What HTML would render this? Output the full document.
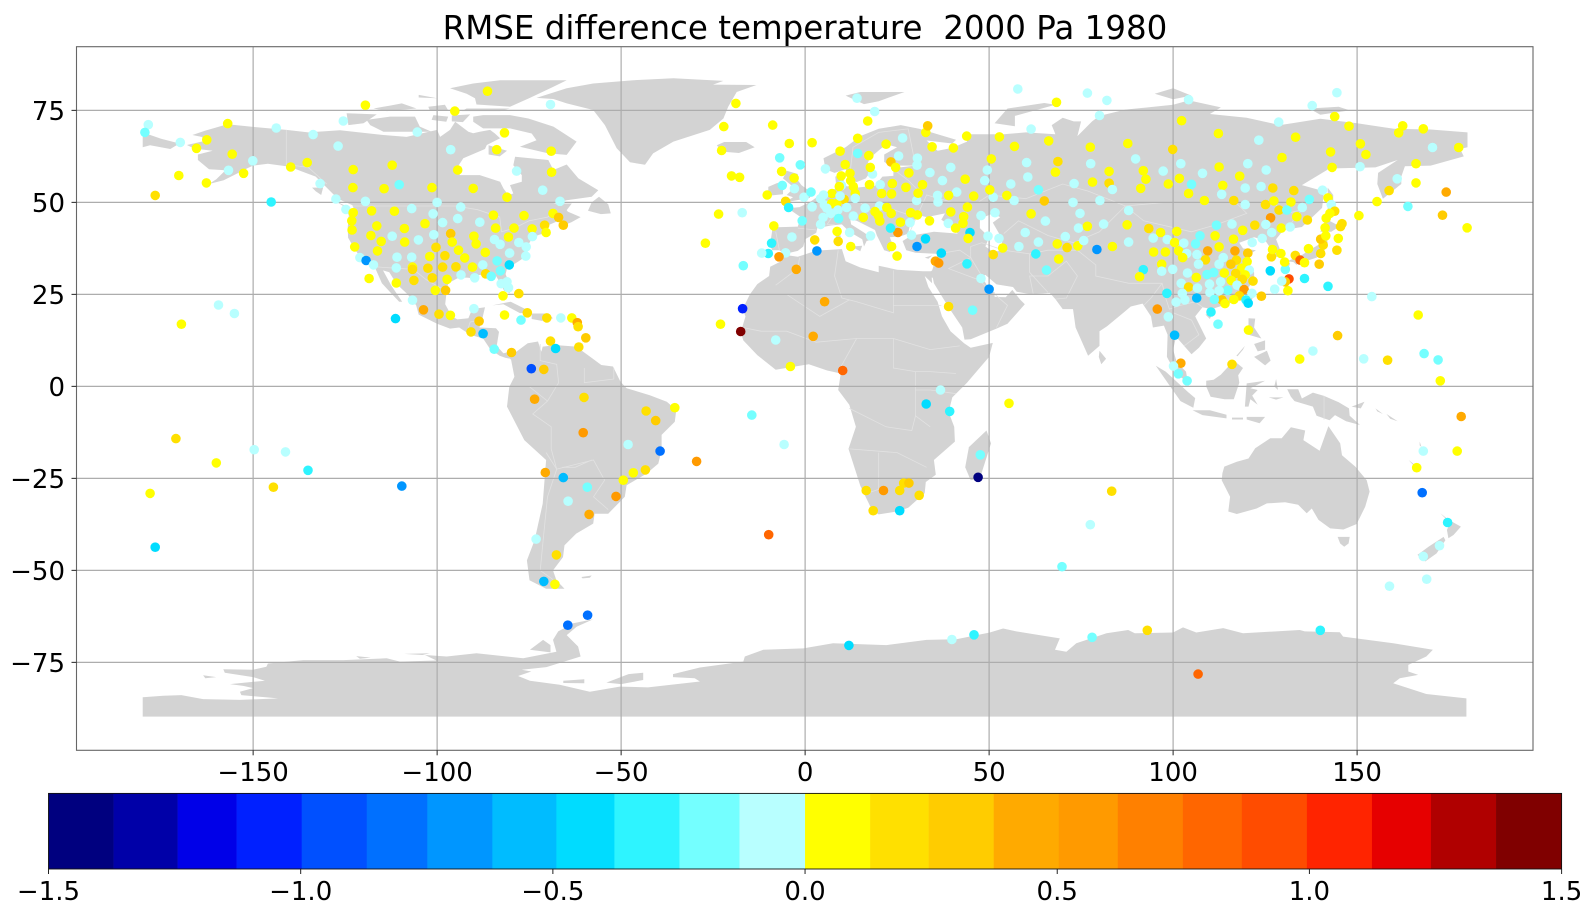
<!DOCTYPE html>
<html lang="en">
<head>
<meta charset="utf-8">
<title>RMSE difference temperature 2000 Pa 1980</title>
<style>
html,body{margin:0;padding:0;background:#fff;width:1595px;height:915px;overflow:hidden}
svg{display:block}
text{font-family:"DejaVu Sans","Liberation Sans",sans-serif;fill:#000}
</style>
</head>
<body>
<svg id="figure" xmlns="http://www.w3.org/2000/svg" width="1595" height="915" viewBox="0 0 1595 915">
  <text x="805" y="39" font-size="32.5" text-anchor="middle" xml:space="preserve">RMSE difference temperature  2000 Pa 1980</text>
  <g id="land"></g>
  <g id="borders"></g>
  <g id="grid"></g>
  <g id="stations"></g>
  <rect x="76.5" y="46.7" width="1456.5" height="703.6" fill="none" stroke="#666" stroke-width="1.1"/>
  <g id="xaxis"></g>
  <g id="yaxis"></g>
  <g id="colorbar"></g>
</svg>
<script>
const xTicks = [-150, -100, -50, 0, 50, 100, 150];
const yTicks = [75, 50, 25, 0, -25, -50, -75];
const colorbarTicks = [-1.5, -1.0, -0.5, 0.0, 0.5, 1.0, 1.5];
const colorbarTickLabels = ["\u22121.5", "\u22121.0", "\u22120.5", "0.0", "0.5", "1.0", "1.5"];
const bandEdges = [-1.5,-1.371,-1.244,-1.127,-0.998,-0.869,-0.749,-0.62,-0.493,-0.378,-0.249,-0.13,0,0.129,0.245,0.374,0.503,0.62,0.749,0.866,0.995,1.124,1.241,1.37,1.5];
const bandColors = ["#00007f","#0000a8","#0000e8","#0020ff","#0050ff","#0070ff","#0096ff","#00bcff","#00dcff","#2ef4ff","#74ffff","#b8ffff","#ffff00","#ffe000","#ffcc00","#ffaa00","#ff9a00","#ff8000","#ff6600","#ff4c00","#ff2400","#e60000","#b00000","#800000"];

const stationLon = [
-178.5,-179.4,-169.8,-162.6,-165.4,-156.9,-155.7,-156.7,-150.1,-152.6,
-162.7,-170.2,-176.6,-143.7,-133.7,-125.5,-119.5,-126.9,-139.8,-135.3,
-122.8,-112.2,-131.8,-122.9,-114.4,-110.3,-101.4,-105.4,-95.2,-86.3,
-69.2,-81.7,-83.8,-69,-96.3,-94.4,-78.4,-68.9,-90.2,-81,
-71.3,-66.6,-145.1,-127.5,-119.5,-124.8,-122.8,-123.2,-123.1,-117.8,
-111.6,-106.9,-100,-101.1,-93.6,-98.5,-94.4,-103.3,-108.9,-116.4,
-118,-115.2,-112.2,-108.8,-105.1,-100.9,-96.3,-95.9,-100.3,-94.2,
-90,-89.4,-84.7,-88.4,-84.1,-76.4,-79.1,-80.6,-84.4,-82.9,
-77.8,-75.8,-74.2,-74.1,-70.8,-70.4,-68.5,-67,-65.7,-122.4,
-116.2,-121,-119.3,-117.3,-110.9,-106.9,-102,-97.9,-92.5,-86.9,
-80.3,-75.9,-83.7,-80.4,-111.1,-106.7,-106.7,-102.5,-98.5,-94.9,
-90.4,-87.6,-82.8,-86.8,-85.3,-93.5,-89.8,-101.3,-97.3,-106.3,
-111.1,-118.5,-100.5,-97.7,-82.6,-81,-80.6,-82.1,-77.8,-106.7,
-103.7,-99.5,-96.4,-90,-81.7,-75.5,-77.2,-70.2,-66.4,-88.6,
-90.8,-87.5,-111.3,-159.4,-155.1,-169.5,-63.4,-61.9,-61.7,-59.6,
-61.5,-69.2,-67.8,-84.5,-79.8,-74.4,-71,-73.5,-60.1,-43.2,
-40.6,-35.4,-60.3,-48.1,-39.4,-29.5,-70.6,-65.7,-59.2,-43.4,
-46.7,-49.4,-51.4,-64.4,-58.7,-73.1,-67.6,-71,-68,-59.1,
-109.6,-23,-17,-17.5,-8,-4,-14.5,-5.7,-9.9,-64.5,
-176.6,-178,-171,-160,-149.7,-141.2,-135.1,-144.5,10.2,2.2,
5.3,32.9,36.8,39.3,47.6,47,16.6,21.3,25.7,26.8,
28.2,31,18.5,25.7,55.4,83.3,69.8,77.5,11.9,39.9,
45.9,78,93,140,106.8,-18.8,-22.1,-8.8,14.1,18.9,
17,-4.3,1.9,-22.7,-6.9,-1.3,-6.4,-20,-17.8,-3,
-6.2,-2.9,-10.3,-5.3,-4.5,-0.3,1.6,5.5,9.5,14.3,
14.3,10.9,9.8,12.2,12.4,13.1,13.6,9.9,9.3,7.3,
5,4.2,5.2,7.2,10.6,8.6,9.5,13.6,1.9,5.9,
8.9,11.3,7,4.9,4.2,9.1,13.1,16.3,20.2,-0.8,
-8.5,-17.1,-23.5,-27.1,-3.6,-9.1,-10,-11.8,-5.3,-7.1,
-16.8,-2.4,2.6,3.2,9,8.7,12.1,12.4,17.8,23.5,
25,25.2,23.2,28.9,25.9,28.5,20.3,19.9,19,15.8,
22.2,23.4,28.7,30.5,33.8,30.4,32.7,38.9,40.9,42.9,
43.1,39.6,44.1,47.8,51.6,44.8,44.3,49.7,52.7,37,
35.4,36.3,44,51.1,53.7,47.8,50,39,45.5,58.1,
62.7,65.6,68.9,68.5,71.2,74.1,63.4,59.8,65.3,61.4,
70.7,74.3,76.7,75.7,79.3,74.7,72.8,65,56.8,54.8,
51.1,50.2,45.8,48.8,49.5,50.6,43.5,39.6,33.9,37.3,
41.2,39,36,36.1,30.3,30.7,31.9,27.4,28.2,23.7,
20.4,17.5,20.8,23.5,18.3,17.7,17.3,22,26.5,25.4,
23.3,24.6,30.5,30.4,34.5,40.3,32.8,33.3,43.9,52.8,
56.9,61.4,66.2,77.5,57.8,68.3,76.7,68.7,60.2,77.6,
68,60.5,55.9,63.4,73.1,78.1,82,80,104.2,102.3,
87.7,99.9,112.3,123.3,128.7,133.3,137.8,144.5,143.9,147.8,
150.9,152.4,142.8,143.2,150.8,161.3,162.4,168,177.6,170.5,
166,160.9,166,158.7,155.4,163.8,174.2,173.2,179.9,150.5,
89.8,82.6,91.9,97.3,102.1,108,112.5,120.3,129.6,125.3,
118.1,92.6,101.7,82.6,83.5,91.2,98.7,105,113.5,119.6,
123.9,127.1,132.8,140.6,104.2,113.2,80.1,108.5,116.5,119.6,
125.1,127.4,132,137,142.1,143,87.9,128.8,130.9,135.1,
126.5,133.6,136.5,143.9,142.6,141.6,81.1,87.5,93.4,96.6,
94.6,101,98.4,87.9,83.5,100.4,102.9,94.7,97.9,101.5,
103.7,102.6,106.1,107.3,111.8,116,111.4,112.5,106.5,109.4,
108.8,106.9,96.9,96.9,99.9,91.9,90.9,103.9,106.3,109.2,
111,112.5,113.6,116.4,118.9,122.2,125.2,129.4,131.8,126.8,
124.2,121.5,116.8,120.3,117.2,115.7,120.1,118.6,120.7,113.9,
117,119.6,118.8,121.7,115.8,112.9,109.9,102.2,117.4,104.2,
106.6,114.8,119.3,110,112.5,102.5,98.3,121.4,118,124,
116.5,113.3,114.1,111.2,106.4,103.2,100.8,119.8,120.4,95.7,
110.3,98.7,112.2,120.5,100.4,102.1,100.1,116,134.4,138,
144.7,151.8,158.3,168.2,172,166.6,154,142.1,135.7,131.2,
127.6,131.5,130.5,129.5,130.5,126.4,130.3,126.7,127,129.3,
133.2,134.5,135.7,139.7,136.8,140.1,140.8,140.1,141.5,141.3,
144.5,144.9,145.5,145.9,172.6,178.3,168,177.2,166.2,167.7,
174.6,172.4,168,168.9,158.8,101.4,103.8
];
const stationLat = [
71.1,69,66.3,67,64.7,71.4,63.1,58.7,61.3,57.9,
55.3,57.3,51.9,70.2,68.4,72.1,76.4,65.3,59.6,60.8,
58.9,60.1,55.1,54,53.7,54.8,54,69.1,74.8,80.2,
76.6,68.9,64.3,63.9,64.3,58.8,58.5,58.2,53.8,51.4,
53.3,50.3,50.1,50.9,50.3,48.1,47.2,45,42.5,47.7,
47.6,48.3,50,46.9,48.7,44.5,45.6,44.2,42.9,43.6,
41,39.4,40.8,39.2,39.8,41.2,41.5,39.2,37.8,37,
40.8,38.7,46.5,44.6,43,46.4,43,40.6,39.9,38.6,
39.1,37.9,42.8,40.7,43.8,41.8,47,45.9,43.8,37.9,
36.8,35,34.2,33,35.1,35.1,35.3,35.5,34.9,36.4,
36.2,35.4,34.1,33,32.2,32.4,31.8,32.1,32.4,32.5,
32.4,33,31.4,30.6,29.9,30.3,29.5,29.5,29.1,28.8,
28.1,29.3,26.1,26.1,27.9,28.4,26.8,24.6,25.2,23.4,
20.8,19.6,19.3,21.1,19.4,20,18,18.6,18.6,17.7,
14.8,14.3,18.4,22.1,19.8,16.9,18.6,17.3,16.2,13.2,
10.7,12.3,10.3,10.1,9.2,4.8,4.6,-3.5,-3,-6.7,
-9.3,-5.8,-12.6,-15.8,-17.6,-20.4,-23.4,-24.8,-27.4,-22.7,
-23.5,-25.5,-29.9,-31.2,-34.8,-41.5,-45.8,-53,-53.8,-62.2,
-27.1,16.9,21.1,14.9,12.6,5.4,-7.8,-15.8,-40.3,-64.9,
-43.7,-29.1,-14.2,-20.8,-17.2,-17.8,-22.8,-27.4,4.3,13.6,
23,-4.8,-1,-6.8,-18.6,-24.7,-28.3,-28.3,-28.3,-26.3,
-26.3,-29.6,-33.8,-33.8,-4.6,-28.5,-49,-37.6,-70.4,-68.8,
-67.5,-68.2,-66.3,-66.3,-78.2,76.9,70.6,71,78.3,74.7,
72.1,66,66.2,64.1,62.1,60.2,58.4,57.2,56.8,56.6,
54.6,53.7,52,50.3,48.6,51.4,52.8,59.1,63.9,67.4,
63.3,60.3,57.2,57.9,55.9,54.3,52.4,54.6,54.3,52.4,
52,51,49.3,49.7,50.8,49.7,51.7,51.1,48.8,48.4,
47.9,48.6,47,45.9,44,45.6,46.3,48.4,49,45,
43.6,47.2,46.8,38.9,40.6,38.9,36.1,36.2,36.3,35.2,
32.8,31.8,39.8,36.8,39.4,42.1,41.8,38,40.9,38,
35.4,41.8,43,41.1,44.6,44.5,44.9,46.4,47.5,45.9,
48.6,47,47.2,46.6,45,38,40.1,44.3,43,44.3,
46.1,47.4,48.7,46.4,47.2,41.8,40.2,40.8,40.2,36.2,
34,33.5,33.3,35.8,37.6,29.3,26.4,21.7,20.7,38,
36,31.6,34.6,38.7,37.7,38.2,39.2,41.8,44.9,46.9,
40.7,43,43.5,39.6,37.2,47,50,50.4,50.5,51.9,
51.4,53.4,51.7,55.9,58.8,61.8,56.3,59.5,58.1,55.9,
52.8,51.9,51.9,50.1,50.5,52.5,54.8,54.1,58,55.1,
54.8,54.8,52.4,52.3,57.7,59.5,62.7,65.8,67.5,62.6,
61,59.5,62,60.1,65.1,64.8,69,70.8,68,67.8,
65.2,69.9,66.7,65,80.8,77.2,79.7,61.1,60.8,60.5,
58.2,56.9,55,53.4,55.1,55.5,77.7,73.6,77.9,72.2,
66,64.4,68.7,66.9,71.8,67.7,76.3,79.8,73.3,70.7,
65.9,63,63.7,59.5,59.7,68.9,70.8,70,64.9,64.9,
60.5,56.4,55.3,53.2,50.2,48.9,52.8,46.5,43.1,46.4,
61.8,58.4,58.6,58.5,60.5,57.9,59.6,60.5,62.2,58.8,
57.1,56.3,56.5,55.2,53.5,53.8,55,54.9,54.6,53.9,
54.3,53.9,53.2,53.3,52.4,52.2,50.5,50.5,50.5,49.4,
49.4,50.4,50.1,50.8,51.2,49.4,47.8,47.9,47.9,48.6,
45.8,46.1,45.2,47.6,47,45.7,44.1,43.9,42.9,41.8,
40.3,42.1,39.9,39.2,38,39.1,38.9,36.5,36.5,36.8,
36.1,35,38.7,40.9,43.8,44.1,40.9,37.9,35.8,36.8,
34.4,33.2,33.2,31.3,31.8,31.7,29.8,30.8,29.6,30.4,
30.9,33.2,35,40,42.4,43.8,44,43,43.3,41.8,
40.2,39.1,36.8,36.2,34.3,33.2,33.9,32.1,31.6,30.8,
30.7,30.3,29.1,28.6,28.8,28.4,27.8,28,27.5,27,
26.7,26.1,26.3,25.5,26,25.3,25.3,25.3,24.6,24.5,
23.6,23.5,22.5,23.6,24,23.5,22.9,23.5,22.6,21,
20.2,18.9,16.9,15.3,13.9,6.3,5.5,6,7.4,9.6,
13.8,7.5,7.1,8.9,7.2,19.4,24.4,27.2,29.3,26,
26.4,29.2,28.4,28.6,31.8,31.4,33.8,35.2,37.2,36.1,
35.6,34.3,33.6,33.2,37.4,36.1,38.4,40,40.9,43.1,
37,40.2,43.4,44.2,1.5,-8.2,-17.6,-17.6,-22.1,-28.9,
-37,-43.3,-46.2,-52.4,-54.3,3.4,1.5
];
const stationRmse = [
-0.07,-0.2,-0.07,0.07,0.07,0.07,0.07,-0.07,-0.07,0.07,
0.07,0.07,0.19,-0.07,-0.07,-0.07,0.07,-0.07,0.07,0.07,
0.07,0.07,-0.07,0.07,0.07,-0.2,0.07,-0.07,0.07,0.07,
-0.07,0.07,0.07,0.07,-0.07,0.07,-0.07,0.07,0.07,0.07,
-0.07,-0.07,-0.32,-0.07,-0.07,-0.07,0.07,0.07,0.07,0.07,
0.07,-0.07,-0.07,-0.07,-0.07,-0.07,-0.07,0.07,0.07,0.07,
0.07,0.07,-0.07,0.07,-0.07,-0.07,0.31,0.07,0.19,0.07,
0.07,0.07,0.07,-0.07,0.07,0.07,0.07,0.07,-0.07,-0.07,
-0.07,-0.07,0.07,-0.07,0.19,0.07,0.07,0.31,0.31,0.07,
0.07,-0.07,-0.69,-0.07,-0.07,-0.07,0.07,0.19,0.07,0.07,
-0.07,-0.07,-0.2,-0.44,-0.07,0.07,0.19,0.19,0.19,0.19,
0.07,-0.07,-0.2,0.19,-0.2,-0.07,-0.07,0.19,0.07,0.19,
0.07,0.07,0.07,0.31,-0.07,-0.07,-0.07,0.07,0.19,-0.07,
0.44,0.19,0.07,-0.07,0.07,0.19,-0.2,0.19,-0.07,0.31,
0.19,-0.56,-0.44,-0.07,-0.07,0.07,0.07,0.44,0.19,0.31,
0.19,0.19,-0.44,-0.2,0.31,-0.94,0.31,0.44,0.19,0.19,
0.31,0.07,0.56,-0.07,-0.8,0.56,0.44,-0.56,-0.2,0.19,
0.07,0.07,0.56,-0.07,0.44,-0.07,0.19,-0.56,0.07,-0.8,
-0.69,0.07,-1.06,1.45,-0.07,0.07,-0.2,-0.07,0.81,-0.8,
-0.44,0.07,0.19,0.07,-0.07,-0.07,-0.32,0.19,0.81,0.44,
0.44,-0.44,-0.07,-0.32,-0.2,-1.45,0.19,0.56,0.19,0.19,
0.31,0.19,0.19,-0.44,0.07,0.19,-0.2,-0.07,-0.44,-0.07,
-0.32,-0.2,0.19,-0.32,0.81,0.07,0.07,0.07,-0.07,-0.07,
0.07,0.07,0.07,0.07,-0.2,-0.2,0.07,0.07,0.07,0.07,
-0.2,-0.07,0.07,0.19,-0.32,-0.07,-0.2,-0.07,0.07,0.07,
-0.2,0.07,0.07,0.07,0.07,0.07,0.07,-0.07,0.07,0.07,
-0.07,-0.07,-0.07,0.07,0.19,0.07,-0.07,-0.07,-0.07,-0.07,
-0.07,-0.07,-0.07,-0.07,-0.07,-0.2,-0.07,-0.07,-0.07,-0.2,
0.07,-0.07,0.07,0.07,-0.07,-0.32,-0.32,-0.07,-0.07,0.56,
-0.2,0.44,0.19,-0.69,0.19,0.07,-0.07,0.07,-0.07,0.07,
0.07,0.56,-0.32,-0.07,0.07,-0.07,0.07,0.07,0.07,0.07,
0.07,0.07,0.07,0.07,0.07,-0.69,-0.44,-0.07,0.07,0.07,
0.07,0.07,0.07,-0.07,-0.07,-0.44,0.07,-0.07,-0.07,-0.44,
0.44,0.56,-0.32,0.19,0.07,-0.07,-0.69,0.19,-0.2,-0.07,
-0.32,-0.2,0.07,0.07,0.19,0.07,-0.07,-0.07,-0.07,0.07,
-0.07,-0.07,0.07,-0.07,-0.69,-0.07,-0.07,0.31,-0.07,0.07,
-0.07,0.07,0.07,-0.07,-0.07,0.07,0.07,-0.07,-0.07,-0.07,
-0.07,0.07,-0.07,-0.07,-0.07,0.07,0.07,0.07,0.07,0.07,
-0.07,0.07,0.07,0.07,-0.07,0.07,0.07,0.07,-0.07,-0.07,
0.31,0.07,-0.07,-0.07,0.07,0.07,0.07,0.31,0.07,0.07,
0.07,-0.07,0.07,0.07,-0.07,0.07,-0.07,0.19,-0.07,-0.07,
0.07,-0.07,-0.07,-0.2,-0.07,0.07,-0.07,-0.07,-0.07,0.07,
0.07,0.19,0.07,-0.07,-0.07,0.07,-0.07,-0.07,0.07,0.07,
0.07,0.07,0.07,0.07,-0.07,0.07,0.07,0.07,0.07,-0.07,
0.07,-0.07,0.07,0.19,0.07,-0.2,0.44,0.31,0.07,0.07,
-0.07,0.07,0.07,-0.07,-0.07,-0.07,0.07,-0.07,0.07,-0.07,
0.07,0.07,0.07,0.19,-0.07,0.07,0.07,-0.2,0.07,-0.07,
-0.07,0.19,0.19,-0.07,0.07,-0.07,-0.07,0.07,0.19,-0.07,
0.19,0.07,0.07,-0.2,0.07,-0.07,-0.07,0.19,-0.2,-0.07,
0.56,0.07,0.19,0.19,0.07,0.07,-0.07,0.07,0.19,0.07,
-0.07,0.07,-0.07,-0.07,0.07,0.07,-0.07,0.07,0.07,0.07,
-0.07,0.07,-0.2,-0.2,-0.2,-0.07,0.07,0.07,-0.07,0.44,
0.19,-0.07,0.07,-0.07,-0.07,-0.32,0.07,-0.07,0.07,-0.2,
-0.2,-0.07,-0.07,0.07,0.07,0.19,-0.07,0.07,-0.07,-0.07,
-0.07,-0.07,0.44,0.31,0.19,0.31,0.07,0.07,-0.07,0.07,
0.19,0.07,0.19,0.19,0.07,-0.07,-0.07,-0.07,-0.07,0.19,
-0.07,-0.2,0.56,-0.07,-0.07,-0.07,-0.32,-0.07,0.19,0.31,
0.07,0.31,0.07,-0.2,-0.56,-0.07,-0.07,-0.32,-0.44,0.56,
-0.32,-0.07,-0.2,0.07,-0.56,0.44,-0.07,0.19,0.07,-0.07,
0.31,-0.07,0.19,-0.2,-0.2,0.07,-0.07,-0.32,-0.32,0.07,
-0.07,0.94,0.31,-0.07,-0.2,-0.44,0.07,0.19,0.07,0.07,
0.19,0.81,0.07,0.31,0.07,0.19,0.19,0.31,0.07,0.07,
0.19,0.07,0.19,0.19,0.07,0.44,-0.07,0.07,0.07,-0.8,
-0.32,-0.07,-0.07,-0.07,-0.07,-0.2,-0.2
];

const landPolygons = [
"-168,65.6 -164,66.5 -162,66.2 -164,67.8 -166.5,68.3 -163,69.5 -157,71.2 -150,70.5 -141,69.7 -135,69 -126.4,69.6 -114.6,68.3 -108.3,67.8 -100,69.7 -99.2,67.8 -96.5,69.7 -95.1,71.9 -91.5,69.2 -90.2,68.8 -88.4,69.2 -85.6,69.7 -84.3,68.7 -82.9,67.4 -86.5,65.6 -87,64.5 -92.9,62 -94.7,59.2 -93.8,57.4 -88.4,57.4 -82.9,55.6 -82,53.8 -80.7,52 -79.3,52.4 -80.2,54.7 -77,55.6 -77,57.4 -79.3,60.1 -78.8,62.4 -69.8,61.5 -68.4,58.8 -64.8,60.3 -61.6,56.5 -56.2,53.3 -58,51.5 -64.8,50.6 -68.4,49.7 -63.4,49.7 -64.8,47.9 -64.5,47.5 -61,46 -63.5,44.6 -66,43.6 -67,45 -70,43.7 -70.7,41.7 -74,40.6 -75.5,38 -76,35.2 -78,33.9 -81,32 -81.4,30.5 -80,26.8 -80.3,25.3 -81.8,26 -82.8,28 -84,30 -86,30.4 -89.5,30.2 -89.3,29.1 -91.5,29.5 -94,29.6 -97,28 -97.5,25 -97.8,22.3 -96,19 -94.5,18.2 -91.5,18.5 -90.5,21 -87,21.5 -87.7,18.5 -88.5,16 -84,15.8 -83.2,14.8 -83.8,11 -82,9 -79.5,9.5 -77.5,8.6 -78,7.5 -80,7.5 -81.5,7.8 -83,8.3 -85.5,10 -87.5,13 -91,14 -94,16 -96.5,15.7 -100,17 -105,19.5 -105.7,22 -108,25 -111,27.8 -113,31 -114.7,31.5 -112.5,27.5 -109.5,23 -110.3,23 -112.2,25 -115,28 -117,32.5 -120.5,34.5 -122.5,37.5 -124.2,40.4 -124.3,43 -124,46.5 -124.7,48.3 -122.5,48 -123,49.2 -127,51 -130,54 -133,57 -137,58.5 -140,59.7 -146,60.5 -150,60 -151.5,59.3 -154,58 -158,56 -162,55 -160,56.3 -157.5,58.7 -162,59 -165,61.5 -165,63 -161,64 -166,64.6",
"-180,65 -180,69 -175,67.3 -170,66 -172.5,64.5 -178,65.5",
"-90.2,73.3 -87.5,73.7 -80.2,73.7 -75.2,72.8 -68.4,70.6 -62.1,66.5 -64.8,62.9 -69.8,63.3 -77.5,65.1 -73,66.9 -74.3,68.7 -80.2,70.1 -87.5,70.1 -90.2,71.9",
"-119.2,72.4 -112.8,73.3 -106,73.3 -104.7,70.6 -101.5,69.2 -114.6,69.2 -118.2,71",
"-124.6,74.2 -116.4,73.9 -120,71.5 -124.1,71",
"-96.5,81 -90.2,82.3 -82.9,83.2 -64.8,83.2 -68.4,81.4 -74.8,78.4 -80.2,76 -89.3,76.6 -89.7,78.3 -92,79.5",
"-92,75.5 -80.2,75.5 -82.9,74.8 -93.3,74.8",
"-117.3,75.5 -112.8,76.3 -109.6,76.9 -105.6,75.5 -113.7,74.8",
"-105,79.2 -100,78.3 -105,78.5",
"-102.4,76 -97.9,76.5 -97,75 -102,75",
"-101,73.7 -97,73.3 -97.5,71.9 -101.5,72.4",
"-96,73.6 -91,73.9 -93,71.8 -96,72",
"-86,65.5 -81,64 -83,62.5 -86,63",
"-59,47.7 -55.5,46.8 -52.8,47 -53.5,49.5 -56,51.5 -58,50",
"-128,50.5 -123.5,48.4 -125,48.7",
"-134,54 -131,54 -131.5,52 -133,53",
"-85,22 -80,23 -75,20.5 -74.3,20 -77.5,19.9 -82,22.3",
"-74.3,19.8 -70,19.8 -68.5,18.5 -71.5,17.8 -74.3,18.3",
"-78.3,18.4 -76.3,18.2 -77,17.8",
"-67.2,18.5 -65.7,18.4 -66.2,18",
"-73,78.4 -64.8,81 -57.6,82.3 -46.7,83.2 -35.8,83.7 -22.2,83 -25,82 -13.2,81.9 -18.6,80 -20.9,76 -22.2,72.8 -25.9,69.7 -35.8,66.5 -41.3,63.3 -43.5,60.2 -47.6,60.9 -51.2,64.7 -54.4,71 -57.6,75.1 -64.8,76.9 -68.4,78.1",
"-24,65.5 -22,66.4 -16,66.4 -13.7,65 -18,63.4 -22.5,63.8",
"-9,37 -9.5,38.8 -8.8,43.2 -2,43.4 -1.2,46 -4.7,48.4 -1.5,48.7 1.5,50.2 4,52 8.5,53.8 8.2,57 10.5,57.7 10.5,54.5 14,54 19,54.5 21,57 24,57.2 24,59.3 30,60 23,60 21.5,61 21.5,63 25,65 22,65.8 17.5,62 17,60.5 18.8,59.8 16.5,56.5 14,55.5 12.5,56 11,59 8,58 5.5,59 5,62 11,65 15,68 20,70 26,71 31,70 41,67 40,66 33,66.8 36,64 40,64.8 44,66.5 44,68.5 54,68.5 60,69 68,68.5 67,71 70,73 73,72 75,72 74,68 78,72 80,73.5 87,75.2 100,76.5 104.3,77.7 113,75.8 110,74 120,73 129,71 133,71.6 140,72.7 150,71.5 160,70 170,69.8 180,69 180,65 178,64.5 179,62.5 170,60 163,59.8 162,57 162,55 157,51 155.5,55 155.7,58 161,61.5 155,59.5 142.5,59.2 135,54.7 141,53 140.5,48.5 135,43.3 130,42.5 128,40 129.5,36 127,34.5 126.5,37.5 125,39.7 122,40.5 118,39 119,37.5 122.5,37 119.5,35 122,31 122,29 119.5,25.5 116,22.8 110.5,21 108,21.5 106,19 109,13 107,10.5 105,8.7 103,11 100.8,13.5 100,10 101,6.5 103.5,4 104,1.4 101,3 98.3,8 98.5,14 97.5,16.5 94.5,16 94,19 91.7,22.5 88.5,21.7 86.5,20 82,16.3 80,15 80,11 76.9,8.3 73.5,16 72.8,21 70,21 68,23.7 66.5,25.4 61.5,25 57.5,25.7 56.5,27 52,27.7 49,30.3 48,29.8 50,26.5 51.5,25.5 51.5,24.3 54.5,24.2 56.3,26.2 58.5,23.5 59.7,22.3 55,17 52,15.7 45,12.8 43.3,12.7 42.7,16 39,21.5 35,28 34.7,29.5 32.5,29.9 34.5,31.5 36,36 32,36.2 30,36.3 27.5,37 26.5,39.5 29,41 35,42 41.5,41.5 39,44 37,45.3 38,47 33,46 31,46.5 28.5,44 28,41.5 26,40.8 23,40.5 24,38 23,36.5 21.5,37 19.5,41 19,42.5 14,45 12.3,45.3 12.5,44 16,41.8 18.5,40 16.7,39.5 16,38 15.5,40 12,42 10,44 7,43.7 3.3,43 3,41.7 0,40 -0.5,38 -2,36.8 -5.5,36 -7,37",
"-6,35.8 -2,35.2 3,36.9 10,37.3 11,34 15,32.3 20,31 20,32.8 25,31.7 32,31.3 34.3,31.3 34.5,28 32.5,30 33.5,27 36,23 37.2,19 39.5,15 43.2,11.7 45,10.5 51,11.8 50,8 44,1 40,-3 39,-7 40.5,-11 40.7,-15 35,-20 35.5,-24 32.8,-26 32.5,-29 28,-33 25,-34 20,-34.8 18.3,-33.9 15,-27 11.8,-17 13.8,-11 12,-5 9,-1 9.7,3.5 6,4.3 1,6 -4,5.2 -8,4.5 -13,8.5 -16.8,12.5 -17.5,14.7 -16.2,19 -17,21 -15,25 -13,27.8 -9.8,30 -9.5,32.5 -6.5,34",
"49.3,-12 50.5,-15.5 47.5,-25 45,-25.5 43.5,-22 44.5,-16.5",
"-5.5,50 1.3,51.2 1.7,52.7 -1,54.7 -2,56 -2,57.7 -5,58.6 -6,56.5 -3,54 -5,52 -3.3,51.4",
"-10,51.8 -6,52.2 -6,54 -7.5,55.3 -10,54.2",
"12.5,38 15.5,38.2 15,36.7",
"8.3,41 9.7,41 9.5,39 8.5,39",
"8.7,43 9.5,43 9.3,41.5",
"23.5,35.5 26.2,35.2 24.5,35",
"32.5,35 34.5,35.6 33.5,34.7",
"11,79 15,80 27,80 20,77.5 16,76.7",
"51.5,71.5 57,70.7 57,73.5 68,76.5 65,77 55,75.5",
"95,79.5 100,81 105,79 100,78",
"137,75.5 145,76 148,75 140,73.8",
"142,54 143.5,52 143.5,47 142,46 142,50",
"140,42 141.5,45.5 145.3,43.5 143,42",
"131,34 135,35.7 137,37 139.5,38.5 140,41.3 141.5,41 142,39 140.7,36 139,35 136,34 133,33.7",
"130,33.5 131.8,33.5 131,31 130.2,31.4",
"132.5,34 134.5,34 133.5,33",
"80,9.7 81.8,7.5 80.5,6 79.8,8",
"108.8,19.5 110.7,20 110,18.3",
"121,25 122,25 120.8,22 120,23.5",
"120.5,18.5 122.3,18.4 122,16 124,13 120.5,14",
"122,8 125.5,9.7 126.5,7 125,5.7",
"122,11.5 125,12.5 125,10 123,9.5",
"117.2,8.3 119.5,11 119,10 117.5,8.2",
"109,1.5 111,1.8 113,3.2 116.5,7 119,5 117.7,3 118,1 116.5,-3.5 114,-3.5 110.2,-2.8 109,0",
"95.3,5.6 98,4 104,-1.5 106,-3.2 105.5,-5.8 102,-4 98.5,1",
"105.3,-6.5 110,-6.5 114.5,-7.7 114.5,-8.7 108,-7.8",
"119.5,-5.5 120,0.8 125,1.5 121,-0.5 123,-1 121.5,-2.5 123,-5 121,-3.5 120.5,-5.5",
"116,-8.5 119,-8.5 119,-9 116,-9",
"120,-8.3 125,-8.3 123.5,-10 120,-9",
"128,2 128.5,-1 127.5,0",
"126,-3 130,-3 128,-3.6",
"131,-0.8 134,-0.8 135,-3.3 138,-1.7 141,-2.6 145,-4.3 147.8,-6 148,-8 150.8,-10.5 147,-9.5 144,-7.8 142.5,-9.2 139,-8 138,-5.5 133,-4 132,-2.8",
"148.5,-5.5 152,-4.2 151,-6",
"155,-6 157,-7.5 155.5,-6.8",
"158,-7.5 161,-9.5 159,-8.8",
"164,-20 166.5,-22 166,-22.2",
"167,-15 167.5,-16.5 167,-16",
"177.5,-17.5 178.5,-17.5 178,-18.2",
"113.4,-23.6 113.9,-21.8 117.3,-20.5 120.5,-19.6 122.3,-16.8 126.4,-14.1 129.5,-14.1 132,-11.1 135.9,-12 135.4,-14.6 139.8,-17.5 142.2,-10.8 145.4,-15.5 145.9,-18.7 149.5,-21.8 152.6,-25.5 153.4,-28.6 152.2,-32.7 149.9,-37.4 146.3,-38.9 142.7,-38.6 139.5,-36.3 137.7,-33.2 136.3,-34.5 134,-32.2 130.4,-31.5 125.5,-31.8 122.7,-33.2 117.3,-34.7 115,-34 115.5,-30 113.2,-25.5",
"144.7,-40.9 148,-40.9 147.7,-42.7 146.5,-43.6 145.4,-42.7",
"172.6,-34.5 174.9,-36.3 178.2,-38.1 176.2,-40.4 174.8,-41.3 174.4,-39 175.3,-37.2",
"173.5,-40.9 174,-41.8 171.6,-45.4 168.5,-47.6 166.4,-45.8 169.4,-43.6",
"-80.5,7.9 -75.4,11.7 -72.6,12.2 -71.7,9.4 -71.3,10.8 -67.6,11.2 -62.2,10.8 -58.5,8.1 -55.4,5.8 -52.2,5.4 -50.2,1.3 -48.5,-0.5 -42.2,-2.4 -37.6,-4.2 -35,-6.4 -35.4,-9.6 -39,-13.2 -39,-17.3 -39.9,-21 -43.1,-23.7 -48.5,-26.9 -49,-30 -53.5,-34.6 -57.2,-34.6 -57.6,-37.3 -62.2,-40 -65.4,-43.2 -65.8,-46.4 -68.5,-50 -67.6,-52.7 -65.4,-55 -70.4,-55 -74.9,-52.7 -75.6,-47.3 -73.5,-41.8 -71.3,-31.9 -70.4,-20 -76.3,-14.6 -81,-5.5 -80.4,-0.1 -79,2.6 -79.9,7.2",
"-60.8,-51.8 -58,-51.4 -58.5,-52 -60.5,-52.2",
"-180,-89.75 -180,-84.5 -174.4,-84.1 -169.5,-83.9 -163.6,-85 -153.6,-85.2 -143.2,-84.8 -153.2,-83.9 -153.6,-83 -150,-82 -152.7,-81.4 -156.3,-80.9 -146.8,-80 -150,-79 -157.7,-77.8 -158.1,-76.9 -150,-77 -146.4,-76.2 -146,-75.3 -136.4,-74.4 -125.5,-74.4 -113.7,-73.9 -110.1,-74.8 -100.2,-74.5 -103.3,-73 -97.4,-73.4 -89.3,-72.5 -76.6,-73.9 -67.6,-72.1 -68.5,-68.9 -67.1,-66.6 -63,-64.4 -57.6,-63.3 -62.1,-65.3 -64.8,-67.6 -61.7,-70.7 -61,-73.4 -70.3,-76.3 -77,-77 -74.4,-77.5 -78,-78.7 -74.8,-80 -66.7,-81.1 -58.5,-83 -50.35,-81.6 -42.7,-81.8 -28.6,-80.2 -30,-79.3 -35.9,-79 -35.9,-78.2 -28.6,-76.4 -16.8,-74.8 -16.4,-73.4 -11.4,-71.6 -0.5,-71.2 7.6,-69.8 22.1,-70.3 33,-68.9 41.1,-68.7 50.2,-66.9 53.8,-65.8 57.4,-66.6 69.2,-68.5 67.9,-71.6 71,-72.1 73.7,-69.8 81.9,-67.1 87.8,-66.2 89.6,-67.1 100,-66.9 102.7,-65.5 106.3,-66.9 113.6,-65.7 119,-67.1 134.4,-66.2 135.8,-66.6 145.3,-66.8 146.2,-68 159.8,-69.8 170.6,-71.6 168.8,-73.4 163.9,-75.7 163.9,-77.5 166.6,-78.4 161.6,-79.3 159.8,-80.7 168.8,-83.6 179.7,-84.8 179.7,-89.75",
"-74.8,-71.6 -71.2,-68.9 -69.2,-70.3 -69.2,-72.3",
"-54,-80.5 -48,-78.2 -44,-77.8 -44,-79.8 -50,-80.9",
"-65.7,-80 -60,-79.6 -60,-80.7 -65.7,-80.6",
"-163.6,-78.5 -160,-79 -163,-79.3",
"-122,-73.3 -118,-73.7 -121,-74",
"-109,-72.7 -102,-72.5 -104,-73"
];
const waterPolygons = [
"47.5,45.5 51,47 53,46 51,44.5 53,41 54,37 51,36.6 49,38 50,40.5 47.5,43"
];
const borderLines = [
"-141,69.7 -141,60.3 -135,59.5 -130,55","-123,49 -95,49 -89,48 -83,46 -82.5,42 -79,43 -75,45 -70,46 -68,47.3 -67,45",
"-117,32.5 -106.5,31.8 -103,29 -99.5,27 -97.3,25.9","-92,14.5 -91,17.5 -88.5,18",
"-72,11.5 -72,7 -67.5,6 -67,1 -70,-4 -74,-7.5 -69,-11 -69,-17 -67.5,-22.5 -57.5,-20 -54.5,-25.5 -57.5,-30 -53.5,-33.5",
"-60,5 -60,1 -52,2 -52,5","-70.4,-18 -67.5,-22.5 -70,-30 -71,-40 -72,-50 -68.5,-52.5","-80,0 -75,0 -70,-4","-58,-20 -62.5,-22 -66,-22",
"-8,27.5 -2,32 -1.5,35","9,37 8,30 10,24 14,23 24,20 24,31.5","24,22 37,22","-5,25 4,19 12,23.5","-17,16 -12,15 -5,15 3,12 14,13 24,13 34,10 42,11","9,4 14,13","24,13 24,5 30,4 34,4 41,3.5","30,4 30,-8 29,-12 22,-11 12,-6","41,-2 34,-1 30,-1","34,-11 30,-8","12,-17 25,-18 33,-22","20,-18 20,-28 17,-29",
"28,41 33,52 40,50 47,50 50,52 60,51 70,55 77,53 87,49 98,50 108,50 117,50 127,50 131,47 135,48 131,43","87,49 92,45 105,42 112,44 120,47 117,50","48,30 45,35 45,38 48,39 54,37 61,36 61,31 66,25.5","54,41.5 58,45 66,41 73,39 80,42 87,49","61,36 66,37 74,37 79,33 79,30 88,28 97,28 98,24 99,21 102,22 106,23 108,21.5","62,25 61,30 66,30 71,34 74,30 71,24 68,23.7","97,28 94,24 92,22","100,20 105,18 107,14 103,11",
"36,36 42,37 45,35 39,32 47,29 55,22 52,16","14,54 14,51 17,48 24,48 30,46","6,49 3,51 7,53","-2,43 3,42.5","-8,42 -7,37","8,47 6,44 8,44","24,59 28,56 32,52","12,56 13,65 20,69 28,70 30,60","141,-2.6 141,-9"
];

const PLOT = {left: 76.5, right: 1533, top: 46.7, bottom: 750.3};
const xDomain = [-198, 197.8];
const yDomain = [-98.9, 92.3];
const BAR = {left: 48.5, right: 1561.6, top: 793.4, bottom: 869};
const barDomain = [-1.5, 1.5];
const SVGNS = "http://www.w3.org/2000/svg";

function xScale(lon) { return PLOT.left + (lon - xDomain[0]) / (xDomain[1] - xDomain[0]) * (PLOT.right - PLOT.left); }
function yScale(lat) { return PLOT.bottom - (lat - yDomain[0]) / (yDomain[1] - yDomain[0]) * (PLOT.bottom - PLOT.top); }
function barScale(v) { return BAR.left + (v - barDomain[0]) / (barDomain[1] - barDomain[0]) * (BAR.right - BAR.left); }
function colorFor(v) {
  for (let i = 0; i < bandColors.length; i++) {
    if (v < bandEdges[i + 1]) return bandColors[i];
  }
  return bandColors[bandColors.length - 1];
}
function make(tag, parent, attrs) {
  const el = document.createElementNS(SVGNS, tag);
  for (const k in attrs) el.setAttribute(k, attrs[k]);
  parent.appendChild(el);
  return el;
}
function project(str) {
  return str.split(" ").map(function (p) {
    const c = p.split(",");
    return xScale(+c[0]).toFixed(1) + "," + yScale(+c[1]).toFixed(1);
  }).join(" ");
}
function label(v) { return v < 0 ? "\u2212" + Math.abs(v) : String(v); }

const landG = document.getElementById("land");
landPolygons.forEach(function (poly) {
  const el = make("polygon", landG, {points: project(poly), fill: "#d3d3d3"});
  
  
});
waterPolygons.forEach(function (poly) {
  const el = make("polygon", landG, {points: project(poly), fill: "#fff"});
  
  
});
const borderG = document.getElementById("borders");
borderLines.forEach(function (line) {
  const el = make("polyline", borderG, {points: project(line), fill: "none", stroke: "#e2e2e2", "stroke-width": 0.8});
  
  
});

const gridG = document.getElementById("grid");
const xAxisG = document.getElementById("xaxis");
const yAxisG = document.getElementById("yaxis");
xTicks.forEach(function (t) {
  const x = xScale(t);
  const g = make("line", gridG, {x1: x, x2: x, y1: PLOT.top, y2: PLOT.bottom, stroke: "#adadad", "stroke-width": 1.2});
  
  
  const m = make("line", xAxisG, {x1: x, x2: x, y1: PLOT.bottom, y2: PLOT.bottom + 5, stroke: "#222", "stroke-width": 1});
  
  
  const l = make("text", xAxisG, {x: x, y: 781, "font-size": 26, "text-anchor": "middle"});
  l.textContent = label(t);
  
  
});
yTicks.forEach(function (t) {
  const y = yScale(t);
  const g = make("line", gridG, {x1: PLOT.left, x2: PLOT.right, y1: y, y2: y, stroke: "#adadad", "stroke-width": 1.2});
  
  
  const m = make("line", yAxisG, {x1: PLOT.left - 5, x2: PLOT.left, y1: y, y2: y, stroke: "#222", "stroke-width": 1});
  
  
  const l = make("text", yAxisG, {x: 65, y: y + 9.5, "font-size": 26, "text-anchor": "end"});
  l.textContent = label(t);
  
  
});

const stationsG = document.getElementById("stations");
const stationCount = Math.min(stationLon.length, stationLat.length, stationRmse.length);
for (let i = 0; i < stationCount; i++) {
  const dot = make("circle", stationsG, {cx: xScale(stationLon[i]).toFixed(1), cy: yScale(stationLat[i]).toFixed(1), r: 4.8, fill: colorFor(stationRmse[i])});
  
  
}

const barG = document.getElementById("colorbar");
bandColors.forEach(function (c, i) {
  const x0 = barScale(bandEdges[i]);
  const x1 = barScale(bandEdges[i + 1]);
  const r = make("rect", barG, {x: x0, y: BAR.top, width: x1 - x0 + 0.3, height: BAR.bottom - BAR.top, fill: c});
  
  
});
const frame = make("rect", barG, {x: BAR.left, y: BAR.top, width: BAR.right - BAR.left, height: BAR.bottom - BAR.top, fill: "none", stroke: "#111", "stroke-width": 0.9});


colorbarTicks.forEach(function (t, i) {
  const x = barScale(t);
  const m = make("line", barG, {x1: x, x2: x, y1: BAR.bottom, y2: BAR.bottom + 5, stroke: "#222", "stroke-width": 1});
  
  
  const l = make("text", barG, {x: x, y: 900, "font-size": 26, "text-anchor": "middle"});
  l.textContent = colorbarTickLabels[i];
  
  
});
</script>
</body>
</html>
